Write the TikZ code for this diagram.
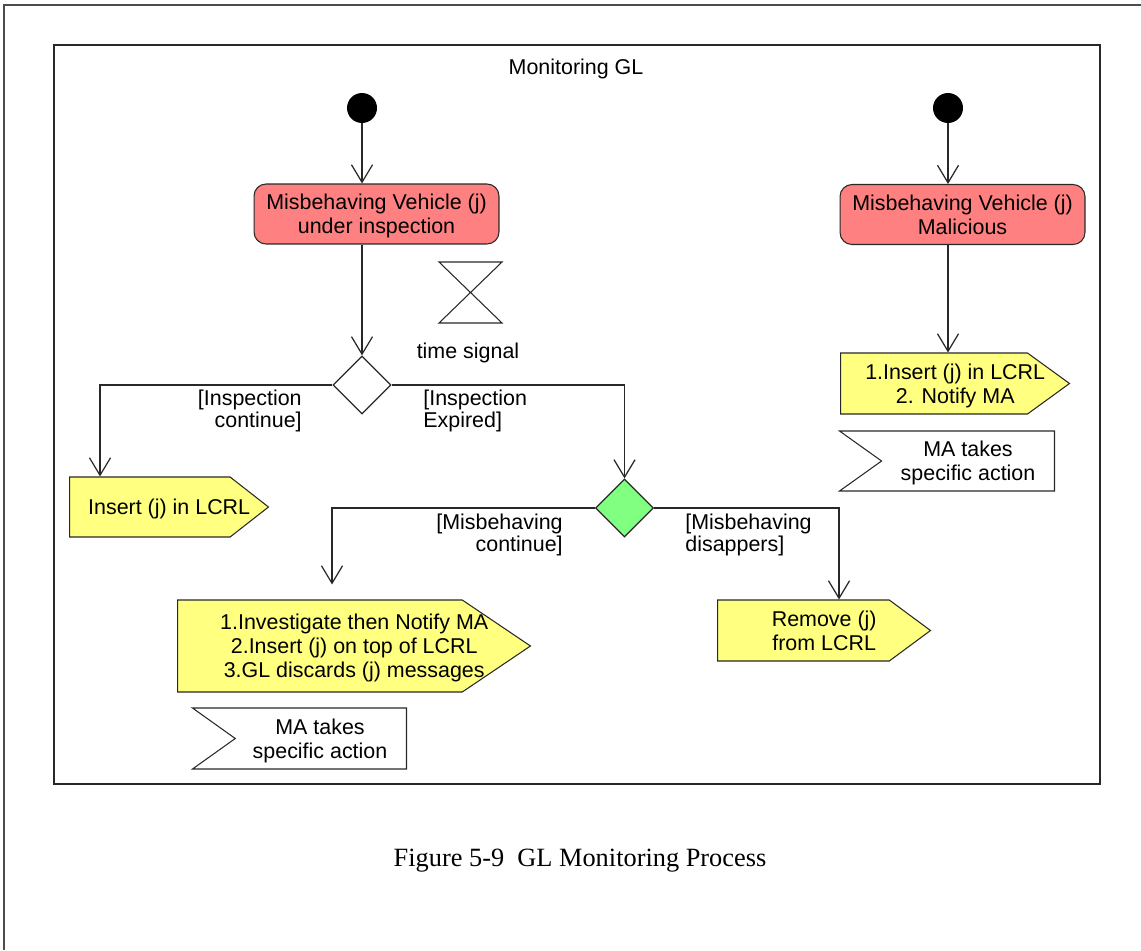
\documentclass[tikz,border=0pt]{standalone}
\usepackage{fontspec}
\setmainfont{Liberation Sans}
\newfontfamily\capfont{Liberation Serif}
\usetikzlibrary{shapes.geometric,shapes.symbols,arrows.meta,calc}
\definecolor{redbox}{RGB}{255,128,128}
\definecolor{yelbox}{RGB}{255,255,128}
\definecolor{grnbox}{RGB}{128,255,128}
\definecolor{edge}{RGB}{40,40,40}

\begin{document}
\begin{tikzpicture}[x=0.02cm,y=-0.02cm,
  every node/.style={font=\fontsize{12.2}{13.6}\selectfont,text depth=0pt},
  state/.style={draw=edge,fill=redbox,rounded corners=2.4mm,minimum width=49mm,minimum height=12mm,align=center,line width=0.6pt},
  start/.style={circle,fill=black,minimum size=6mm,inner sep=0},
  choice/.style={diamond,draw=edge,line width=0.7pt,minimum width=11.6mm,minimum height=11.6mm,inner sep=0},
  sendbox/.style={signal,signal to=east,draw=edge,fill=yelbox,line width=0.6pt,inner sep=0,anchor=west},
  takebox/.style={signal,signal from=west,signal to=nowhere,signal pointer angle=71,draw=edge,line width=0.6pt,inner sep=0,anchor=east},
  guard/.style={font=\fontsize{12.2}{10.8}\selectfont,inner sep=0},
  flow/.style={draw=edge,line width=0.7pt,-{Straight Barb[length=10pt,width=12pt]}}]
\useasboundingbox (0,0) rectangle (1141,950);
\draw[gray!60!black,line width=0.9pt] (4,950)--(4,5)--(1141,5);
\draw[edge,line width=0.8pt] (54,45) rectangle (1100,784);
\node (title) at (576,67) {Monitoring GL};
\node[start] (s1) at (362,108) {}; \node[start] (s2) at (948,108) {};
\node[state] (insp) at (376.5,214) {Misbehaving Vehicle (j)\\under inspection};
\node[state] (mal) at (962.5,214.5) {Misbehaving Vehicle (j)\\Malicious};
\draw[edge,line width=0.6pt] (439,262)--(502,262)--(439,323)--(502,323)--cycle;
\node (tsig) at (468,351) {time signal};
\node[choice] (d1) at (362,385) {}; \node[choice,fill=grnbox] (d2) at (624.5,508) {};
\node[sendbox,minimum width=39.8mm,minimum height=12mm,signal pointer angle=76] (ins) at (69,507) {};
\node[sendbox,minimum width=70.6mm,minimum height=18.4mm,signal pointer angle=68] (inv) at (177,646) {};
\node[sendbox,minimum width=42.6mm,minimum height=12.2mm,signal pointer angle=73] (rem) at (717,630.5) {};
\node[sendbox,minimum width=45.8mm,minimum height=12.2mm,signal pointer angle=72] (note) at (840,383.5) {};
\node[takebox,minimum width=42.8mm,minimum height=12.2mm] (ma2) at (407,738.5) {};
\node[takebox,minimum width=43mm,minimum height=12mm] (ma1) at (1055,461) {};
\node[align=center] (ins-t) at ($(ins.west)!.5!(ins.east)$) {Insert (j) in LCRL};
\node[align=center] (inv-t) at ($(inv.west)!.5!(inv.east)$) {1.Investigate then Notify MA\\2.Insert (j) on top of LCRL\\3.GL discards (j) messages};
\node[align=center] (rem-t) at ($(rem.west)!.5!(rem.east)$) {Remove (j)\\from LCRL};
\node[align=center] (note-t) at ($(note.west)!.5!(note.east)$) {1.Insert (j) in LCRL\\2. Notify MA};
\node[align=center] (ma2-t) at ([xshift=-17.4mm]ma2.east) {MA takes\\specific action};
\node[align=center] (ma1-t) at ([xshift=-17.4mm]ma1.east) {MA takes\\specific action};
\draw[flow] (s1) -- (s1 |- insp.north);
\draw[flow] (insp.south -| d1) -- (d1.north);
\draw[flow] (d1.west) -| (ins.north -| 100,0);
\draw[flow] (d1.east) -| (d2.north);
\draw[flow,shorten >=3mm] (d2.west) -| (inv.north -| 332,0);
\draw[flow] (d2.east) -| (rem.north -| 839,0);
\draw[flow] (s2) -- (s2 |- mal.north);
\draw[flow] (mal.south -| s2) -- (note.north -| s2);
\node[guard,align=right,anchor=east] (g1) at (302,408.5) {[Inspection\\continue]};
\node[guard,align=left,anchor=west] (g2) at (423,408.5) {[Inspection\\Expired]};
\node[guard,align=right,anchor=east] (g3) at (563,532.5) {[Misbehaving\\continue]};
\node[guard,align=left,anchor=west] (g4) at (685,532.5) {[Misbehaving\\disappers]};
\node[font=\capfont\fontsize{15}{18}\selectfont] (cap) at (580,858) {Figure 5-9\ \ GL Monitoring Process};
\end{tikzpicture}
\end{document}
